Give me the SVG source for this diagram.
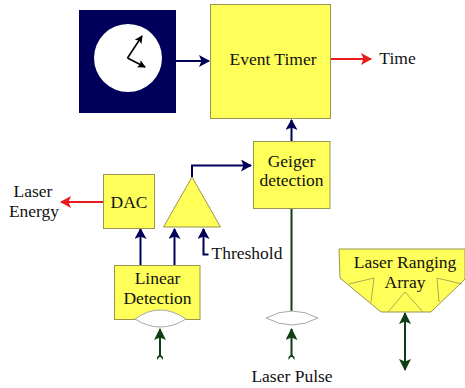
<svg xmlns="http://www.w3.org/2000/svg" width="465" height="388" viewBox="0 0 465 388">
<style>
text{font-family:"Liberation Serif","DejaVu Serif",serif;font-size:17.5px;fill:#111;text-anchor:middle}
.box{fill:#ffff5a;stroke:#99944f;stroke-width:1}
.thin{fill:none;stroke:#99944f;stroke-width:.8}
.lens{fill:#fff;stroke:#a8a8a8;stroke-width:1}
.c{fill:none;stroke-width:2}
.hand{fill:none;stroke:#000;stroke-width:1.600}
.navy{stroke:#00005a}.red{stroke:#e81c1c}.green{stroke:#0e3d16}
</style>
<defs>
<marker id="an" markerUnits="userSpaceOnUse" markerWidth="11" markerHeight="12" refX="10" refY="6" orient="auto"><path d="M0 0L11 6L0 12L2.500 6Z" fill="#00005a"/></marker>
<marker id="ar" markerUnits="userSpaceOnUse" markerWidth="11" markerHeight="12" refX="10" refY="6" orient="auto"><path d="M0 0L11 6L0 12L2.500 6Z" fill="#e81c1c"/></marker>
<marker id="ag" markerUnits="userSpaceOnUse" markerWidth="12" markerHeight="12" refX="11" refY="6" orient="auto-start-reverse"><path d="M0 0L12 6L0 12L2.500 6Z" fill="#0e3d16"/></marker>
<marker id="tg" markerUnits="userSpaceOnUse" markerWidth="6" markerHeight="8" refX="3" refY="4" orient="auto"><path d="M0 1L4 4L0 7L3 7L6 4L3 1Z" fill="#0e3d16"/></marker>
<marker id="ak" markerUnits="userSpaceOnUse" markerWidth="8" markerHeight="8" refX="7" refY="4" orient="auto"><path d="M0 0L8 4L0 8L1.500 4Z" fill="#000"/></marker>
</defs>
<g id="connectors">
<path class="c navy" d="M176 61H209" marker-end="url(#an)"/>
<path class="c red" d="M330 59H371" marker-end="url(#ar)"/>
<path class="c navy" d="M291.500 141V120" marker-end="url(#an)"/>
<path class="c navy" d="M192 177V165.500H251" marker-end="url(#an)"/>
<path class="c red" d="M103 202H61" marker-end="url(#ar)"/>
<path class="c navy" d="M140.500 265V229" marker-end="url(#an)"/>
<path class="c navy" d="M174.500 265V229" marker-end="url(#an)"/>
<path class="c navy" d="M208.500 254.500H203.500V229" marker-end="url(#an)"/>
<path class="c green" d="M291.500 208V311"/>
<path class="c green" d="M160 357V329" marker-start="url(#tg)" marker-end="url(#ag)"/>
<path class="c green" d="M291.500 357V329" marker-start="url(#tg)" marker-end="url(#ag)"/>
<path class="c green" d="M405 313V370" marker-start="url(#ag)" marker-end="url(#ag)"/>
</g>
<g id="clock">
<rect x="79" y="10" width="97" height="103" fill="#00005a"/>
<circle cx="128" cy="58" r="34" fill="#fff"/>
<path class="hand" d="M127.500 58L145 67" marker-end="url(#ak)"/>
<path class="hand" d="M127.500 58L142 36" marker-end="url(#ak)"/>
</g>
<g id="event-timer"><rect class="box" x="210.500" y="4.500" width="120" height="114"/><text x="273" y="65">Event Timer</text></g>
<g id="time"><text x="397.500" y="64">Time</text></g>
<g id="geiger"><rect class="box" x="253.500" y="141.500" width="76.500" height="67"/><text x="291.500" y="167">Geiger</text><text x="291.500" y="186">detection</text></g>
<g id="dac"><rect class="box" x="103.500" y="174.500" width="51" height="54"/><text x="129" y="208">DAC</text></g>
<g id="laser-energy"><text x="33" y="197">Laser</text><text x="34" y="217">Energy</text></g>
<g id="comparator"><path class="box" d="M192 177L220.500 227H163.500Z"/></g>
<g id="threshold"><text x="247" y="259">Threshold</text></g>
<g id="linear"><rect class="box" x="114.500" y="265.500" width="85.500" height="54"/><text x="157.500" y="284">Linear</text><text x="157.500" y="304">Detection</text><path class="lens" d="M135 319Q160 301 186 319Q160 335 135 319Z"/></g>
<g id="lens2"><path class="lens" d="M266 318Q292 304 318 318Q292 332 266 318Z"/></g>
<g id="laser-pulse"><text x="292" y="382">Laser Pulse</text></g>
<g id="array">
<path class="box" d="M339 249H465V279L431 312H381L340 278Z"/>
<path class="thin" d="M349 284L374 278L371 302M388 312L405 292L423 312M462 284L437 278L439 302"/>
<text x="405" y="268">Laser Ranging</text><text x="405" y="288">Array</text>
</g>
</svg>
